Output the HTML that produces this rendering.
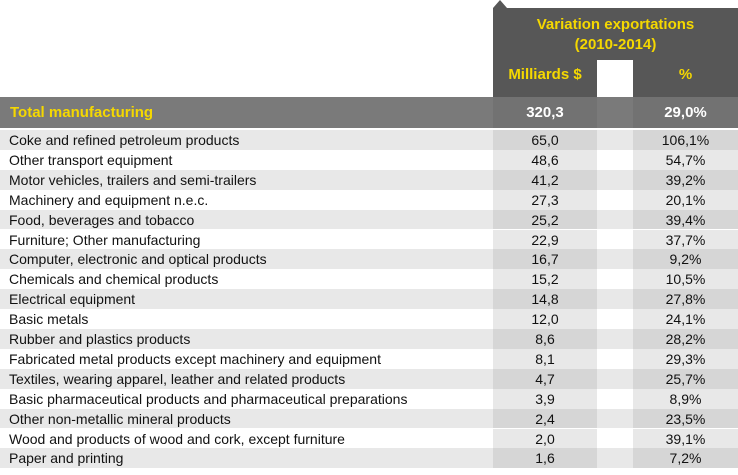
<!DOCTYPE html>
<html><head><meta charset="utf-8"><style>
body{margin:0;width:738px;height:475px;background:#fff;position:relative;overflow:hidden;font-family:"Liberation Sans",Arial,sans-serif}
div{position:absolute;box-sizing:border-box}
.row{left:0;width:738px;height:19.9px;font-size:14px;color:#111;line-height:20px}
.row span{position:absolute;top:0;height:100%}
.lbl{left:9px}
.c1{left:493px;width:104px;text-align:center}
.c2{left:633px;width:105px;text-align:center}
</style></head><body>
<div style="left:493px;top:0;width:0;height:0;border-left:7px solid transparent;border-right:7px solid transparent;border-bottom:8px solid #575757"></div>
<div style="left:493px;top:8px;width:245px;height:89px;background:#575757"></div>
<div style="left:493px;top:15px;width:245px;text-align:center;color:#f5d800;font-weight:bold;font-size:15px;line-height:20px">Variation exportations<br>(2010-2014)</div>
<div style="left:597px;top:60px;width:36px;height:37px;background:#fff"></div>
<div style="left:493px;top:66px;width:104px;text-align:center;color:#f5d800;font-weight:bold;font-size:15px">Milliards $</div>
<div style="left:633px;top:66px;width:105px;text-align:center;color:#f5d800;font-weight:bold;font-size:15px">%</div>
<div style="left:0;top:97px;width:738px;height:31px;background:#7a7a7a;font-size:15px;font-weight:bold;line-height:31px">
<span style="position:absolute;left:10px;color:#f5d800">Total manufacturing</span>
<span style="position:absolute;left:493px;width:104px;text-align:center;color:#fff;background:#727272">320,3</span>
<span style="position:absolute;left:633px;width:105px;text-align:center;color:#fff;background:#727272">29,0%</span>
</div>
<div id="body"></div>
<script>
const labels=["Coke and refined petroleum products","Other transport equipment","Motor vehicles, trailers and semi-trailers","Machinery and equipment n.e.c.","Food, beverages and tobacco","Furniture; Other manufacturing","Computer, electronic and optical products","Chemicals and chemical products","Electrical equipment","Basic metals","Rubber and plastics products","Fabricated metal products except machinery and equipment","Textiles, wearing apparel, leather and related products","Basic pharmaceutical products and pharmaceutical preparations","Other non-metallic mineral products","Wood and products of wood and cork, except furniture","Paper and printing"];
const milliards=["65,0","48,6","41,2","27,3","25,2","22,9","16,7","15,2","14,8","12,0","8,6","8,1","4,7","3,9","2,4","2,0","1,6"];
const pct=["106,1%","54,7%","39,2%","20,1%","39,4%","37,7%","9,2%","10,5%","27,8%","24,1%","28,2%","29,3%","25,7%","8,9%","23,5%","39,1%","7,2%"];
const b=document.body;
labels.forEach((l,i)=>{
 const r=document.createElement('div');
 
 
 r.className='row';
 const g=i%2===0;
 r.style.top=(130+i*19.9)+'px';
 r.style.background=g?'#e8e8e8':'#fff';
 const cb=g?'#d6d6d6':'#e8e8e8';
 r.innerHTML='<span class="lbl">'+l+'</span><span class="c1" style="background:'+cb+'">'+milliards[i]+'</span><span class="c2" style="background:'+cb+'">'+pct[i]+'</span>';
 b.appendChild(r);
});
</script>
</body></html>
